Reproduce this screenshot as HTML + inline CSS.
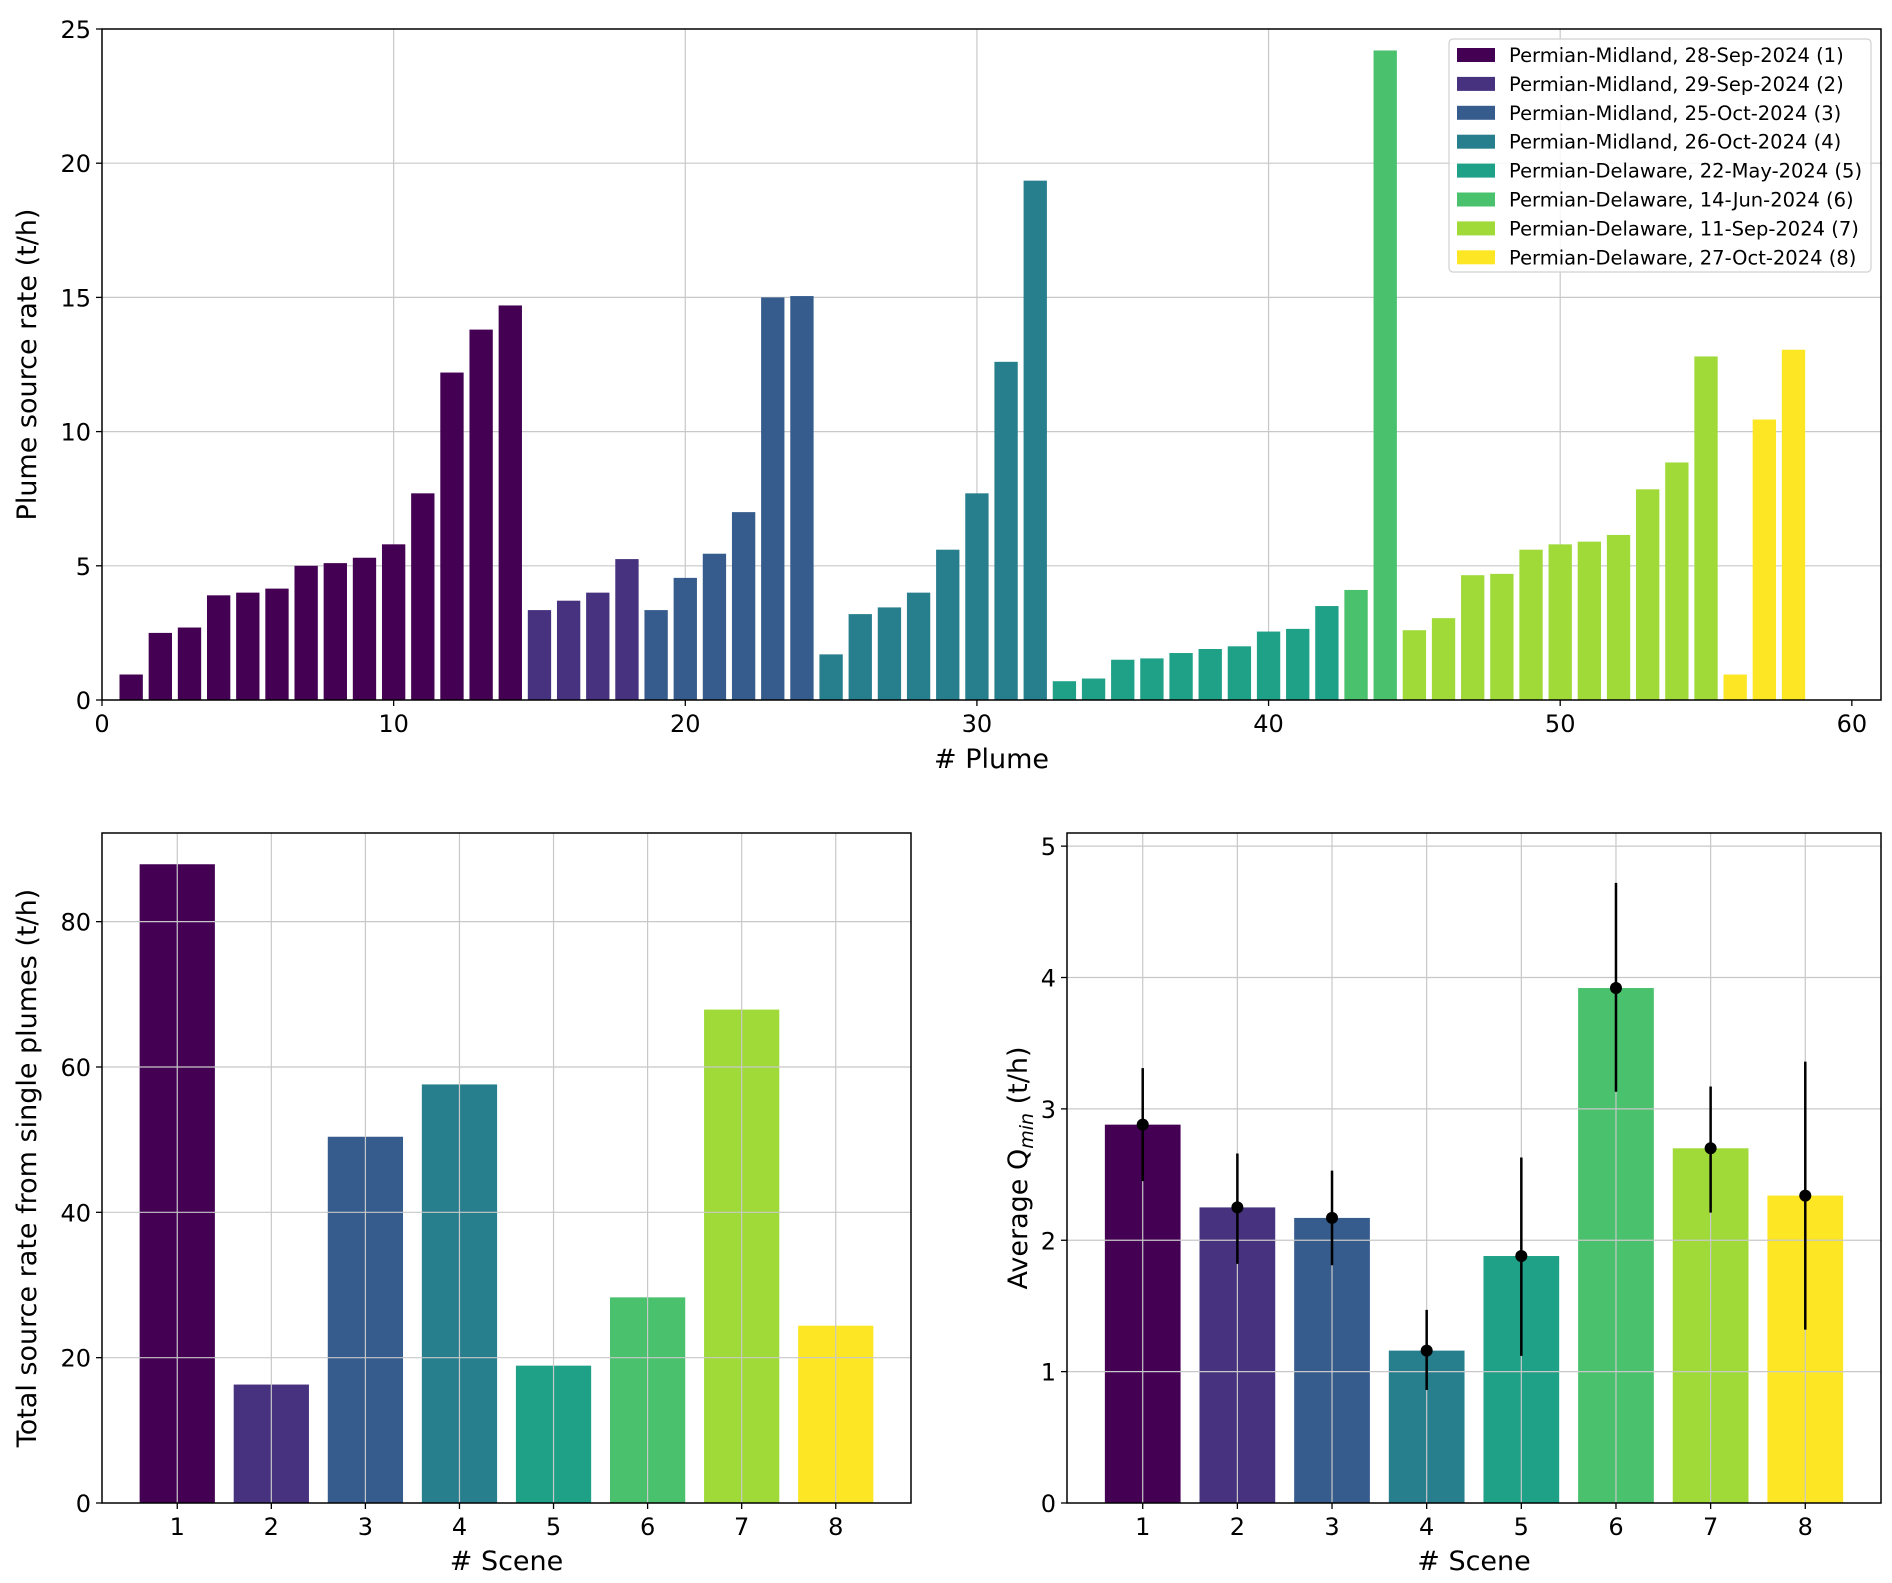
<!DOCTYPE html>
<html><head><meta charset="utf-8"><style>
body{margin:0;background:#fff}
svg{display:block;font-family:"DejaVu Sans","Liberation Sans",sans-serif}
</style></head><body>
<svg id="fig" width="1892" height="1583" viewBox="0 0 1892 1583" xmlns="http://www.w3.org/2000/svg"></svg>
<script>
const colors=["#440154","#46327e","#365c8d","#277f8e","#1fa187","#4ac16d","#a0da39","#fde725"];
const legendLabels=["Permian-Midland, 28-Sep-2024 (1)","Permian-Midland, 29-Sep-2024 (2)","Permian-Midland, 25-Oct-2024 (3)","Permian-Midland, 26-Oct-2024 (4)","Permian-Delaware, 22-May-2024 (5)","Permian-Delaware, 14-Jun-2024 (6)","Permian-Delaware, 11-Sep-2024 (7)","Permian-Delaware, 27-Oct-2024 (8)"];
const plumeValues=[0.95,2.5,2.7,3.9,4.0,4.15,5.0,5.1,5.3,5.8,7.7,12.2,13.8,14.7,
3.35,3.7,4.0,5.25,
3.35,4.55,5.45,7.0,15.0,15.05,
1.7,3.2,3.45,4.0,5.6,7.7,12.6,19.35,
0.7,0.8,1.5,1.55,1.75,1.9,2.0,2.55,2.65,3.5,
4.1,24.2,
2.6,3.05,4.65,4.7,5.6,5.8,5.9,6.15,7.85,8.85,12.8,
0.95,10.45,13.05];
const plumeScene=[1,1,1,1,1,1,1,1,1,1,1,1,1,1,2,2,2,2,3,3,3,3,3,3,4,4,4,4,4,4,4,4,5,5,5,5,5,5,5,5,5,5,6,6,7,7,7,7,7,7,7,7,7,7,7,8,8,8];
const scenes=[1,2,3,4,5,6,7,8];
const totalRates=[87.9,16.3,50.4,57.6,18.9,28.3,67.9,24.4];
const qmin=[2.88,2.25,2.17,1.16,1.88,3.92,2.70,2.34];
const qminHi=[3.31,2.66,2.53,1.47,2.63,4.72,3.17,3.36];
const qminLo=[2.45,1.82,1.81,0.86,1.12,3.13,2.21,1.32];
const topXTicks=[0,10,20,30,40,50,60];
const topYTicks=[0,5,10,15,20,25];
const blYTicks=[0,20,40,60,80];
const brYTicks=[0,1,2,3,4,5];

const svg=document.getElementById('fig');
const NS="http://www.w3.org/2000/svg";
function el(tag,attrs,parent){const e=document.createElementNS(NS,tag);for(const k in attrs)e.setAttribute(k,attrs[k]);(parent||svg).appendChild(e);return e;}
function txt(s,attrs,parent){const e=el('text',attrs,parent);e.textContent=s;return e;}

function panel(name,L,R,T,B,xmin,xmax,ymin,ymax){
  const g=el('g',{});
  
  
  return {g,L,R,T,B,x:v=>L+(v-xmin)/(xmax-xmin)*(R-L),y:v=>B-(v-ymin)/(ymax-ymin)*(B-T)};
}
function grid(p,xt,yt){
  const gg=el('g',{},p.g);
  
  
  xt.forEach(v=>el('line',{x1:p.x(v),x2:p.x(v),y1:p.T,y2:p.B,stroke:'#c8c8c8','stroke-width':1.2},gg));
  yt.forEach(v=>el('line',{x1:p.L,x2:p.R,y1:p.y(v),y2:p.y(v),stroke:'#c8c8c8','stroke-width':1.2},gg));
}
function axes(p,xt,yt,xlab,ylabX,xlabY){
  el('rect',{x:p.L,y:p.T,width:p.R-p.L,height:p.B-p.T,fill:'none',stroke:'#000','stroke-width':1.5},p.g);
  xt.forEach(v=>{el('line',{x1:p.x(v),x2:p.x(v),y1:p.B,y2:p.B+6,stroke:'#000','stroke-width':1.3},p.g);
    const t=txt(String(v),{x:p.x(v),y:p.B+32,'font-size':24,'text-anchor':'middle',fill:'#000'},p.g);
    
    });
  yt.forEach(v=>{el('line',{x1:p.L-6,x2:p.L,y1:p.y(v),y2:p.y(v),stroke:'#000','stroke-width':1.3},p.g);
    const t=txt(String(v),{x:p.L-11,y:p.y(v)+9,'font-size':24,'text-anchor':'end',fill:'#000'},p.g);
    
    });
  const xl=txt(xlab,{x:(p.L+p.R)/2,y:xlabY,'font-size':27,'text-anchor':'middle'},p.g);
  
  
  const cy=(p.T+p.B)/2;
  const yl=el('text',{x:ylabX,y:cy,'font-size':27,'text-anchor':'middle',transform:`rotate(-90 ${ylabX} ${cy})`},p.g);
  
  
  return yl;
}

const topP=panel('plume-chart',102,1881,29,700,0,61,0,25);
grid(topP,topXTicks.slice(1,-1),topYTicks.slice(1,-1));
plumeValues.forEach((v,i)=>{
  const n=i+1;
  const r=el('rect',{x:topP.x(n-0.4),y:topP.y(v),width:topP.x(n+0.4)-topP.x(n-0.4),height:topP.y(0)-topP.y(v),fill:colors[plumeScene[i]-1]},topP.g);
  
  
});
let yl=axes(topP,topXTicks,topYTicks,'# Plume',36,768);
yl.textContent='Plume source rate (t/h)';
const lg=el('g',{},topP.g);


el('rect',{x:1449,y:39,width:422,height:233,rx:4,fill:'#fff','fill-opacity':0.85,stroke:'#d0d0d0','stroke-width':1.2},lg);
legendLabels.forEach((s,i)=>{
  const yy=55+i*28.9;
  const e=el('g',{},lg);
  
  
  el('rect',{x:1457,y:yy-7,width:38,height:14,fill:colors[i]},e);
  txt(s,{x:1509,y:yy+7,'font-size':19.5},e);
});

const bl=panel('total-rate-chart',102,911,833,1503,0.2,8.8,0,92.2);
totalRates.forEach((v,i)=>{
  const n=scenes[i];
  const r=el('rect',{x:bl.x(n-0.4),y:bl.y(v),width:bl.x(n+0.4)-bl.x(n-0.4),height:bl.y(0)-bl.y(v),fill:colors[i]},bl.g);
  
  
});
grid(bl,scenes,blYTicks.slice(1));
yl=axes(bl,scenes,blYTicks,'# Scene',36,1570);
yl.textContent='Total source rate from single plumes (t/h)';

const br=panel('qmin-chart',1067,1881,833,1503,0.2,8.8,0,5.1);
qmin.forEach((v,i)=>{
  const n=scenes[i];
  const r=el('rect',{x:br.x(n-0.4),y:br.y(v),width:br.x(n+0.4)-br.x(n-0.4),height:br.y(0)-br.y(v),fill:colors[i]},br.g);
  
  
});
grid(br,scenes,brYTicks.slice(1));
qmin.forEach((v,i)=>{
  const n=scenes[i];
  const e=el('line',{x1:br.x(n),x2:br.x(n),y1:br.y(qminHi[i]),y2:br.y(qminLo[i]),stroke:'#000','stroke-width':2.5},br.g);
  
  
  const c=el('circle',{cx:br.x(n),cy:br.y(v),r:6,fill:'#000'},br.g);
  
  
});
yl=axes(br,scenes,brYTicks,'# Scene',1027,1570);
yl.textContent='Average Q';
const ts=el('tspan',{'font-size':19,'font-style':'italic',dy:6},yl); ts.textContent='min';
const ts2=el('tspan',{dy:-6},yl); ts2.textContent=' (t/h)';
</script>
</body></html>
